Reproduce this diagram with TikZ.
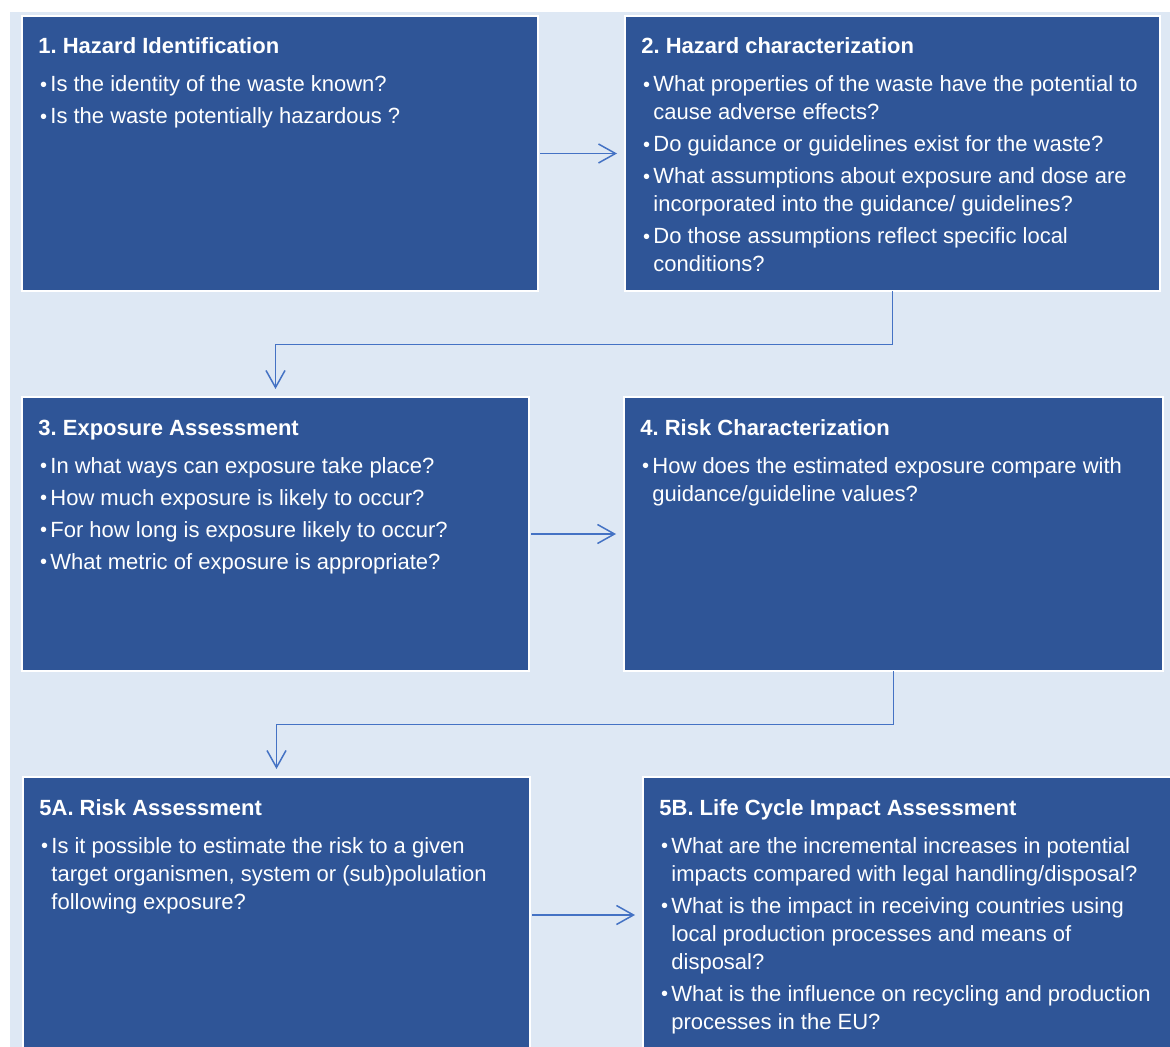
\documentclass[tikz,border=0pt]{standalone}
\usepackage{fontspec}
\setmainfont{Liberation Sans}
\usetikzlibrary{arrows.meta}

\definecolor{boxblue}{HTML}{2F5597}
\definecolor{paleblue}{HTML}{DEE8F4}
\definecolor{flowblue}{HTML}{4472C4}

\newcommand{\qtitle}[1]{{\bfseries #1\par}\vspace{3pt}}
\newcommand{\qitem}[1]{\hangindent=6pt\hangafter=1\relax\hspace*{0.8pt}\makebox[5.2pt][l]{\raisebox{0.3pt}{\fontsize{10}{10}\selectfont\textbullet}}#1\par}
\newcommand{\qtext}[2]{\parbox[t]{#1}{\fontsize{11}{14}\selectfont\raggedright\frenchspacing\setlength{\parskip}{2pt}#2}}

\begin{document}
\begin{tikzpicture}[x=0.5pt, y=-0.5pt,
    qbox/.style={draw=white, line width=1.2pt, fill=boxblue, anchor=north west,
                 outer sep=0pt, inner sep=0pt},
    qtxt/.style={text=white, anchor=base west, inner sep=0pt},
    flow/.style={draw=flowblue, line width=0.75pt,
                 -{Straight Barb[length=8.5pt, width=9.5pt]}, shorten >=4pt}]
\clip (0,0) rectangle (1170,1047);
\fill[paleblue] (10,12) rectangle (1170,1047);

\node[qbox, minimum width=258pt,   minimum height=137.5pt] (hazid)    at (22,16)  {};
\node[qbox, minimum width=267.5pt, minimum height=137.5pt] (hazchar)  at (625,16) {};
\node[qbox, minimum width=253.5pt, minimum height=137pt]   (expo)     at (22,397) {};
\node[qbox, minimum width=269.5pt, minimum height=137pt]   (riskchar) at (624,397) {};
\node[qbox, minimum width=253.5pt, minimum height=138pt]   (riskass)  at (23,777) {};
\node[qbox, minimum width=266pt,   minimum height=138pt]   (lcia)     at (643,777) {};

\node[qtxt] (hazidtxt) at ([shift={(8pt,-19pt)}]hazid.north west) {\qtext{250pt}{%
  \qtitle{1. Hazard Identification}
  \qitem{Is the identity of the waste known?}
  \qitem{Is the waste potentially hazardous ?}}};
\node[qtxt] (hazchartxt) at ([shift={(8pt,-19pt)}]hazchar.north west) {\qtext{258pt}{%
  \qtitle{2. Hazard characterization}
  \qitem{What properties of the waste have the potential to\newline cause adverse effects?}
  \qitem{Do guidance or guidelines exist for the waste?}
  \qitem{What assumptions about exposure and dose are\newline incorporated into the guidance/ guidelines?}
  \qitem{Do those assumptions reflect specific local\newline conditions?}}};
\node[qtxt] (expotxt) at ([shift={(8pt,-19pt)}]expo.north west) {\qtext{245pt}{%
  \qtitle{3. Exposure Assessment}
  \qitem{In what ways can exposure take place?}
  \qitem{How much exposure is likely to occur?}
  \qitem{For how long is exposure likely to occur?}
  \qitem{What metric of exposure is appropriate?}}};
\node[qtxt] (riskchartxt) at ([shift={(8pt,-19pt)}]riskchar.north west) {\qtext{260pt}{%
  \qtitle{4. Risk Characterization}
  \qitem{How does the estimated exposure compare with\newline guidance/guideline values?}}};
\node[qtxt] (riskasstxt) at ([shift={(8pt,-19pt)}]riskass.north west) {\qtext{245pt}{%
  \qtitle{5A. Risk Assessment}
  \qitem{Is it possible to estimate the risk to a given\newline target organismen, system or (sub)polulation\newline following exposure?}}};
\node[qtxt] (lciatxt) at ([shift={(8pt,-19pt)}]lcia.north west) {\qtext{258pt}{%
  \qtitle{5B. Life Cycle Impact Assessment}
  \qitem{What are the incremental increases in potential\newline impacts compared with legal handling/disposal?}
  \qitem{What is the impact in receiving countries using\newline local production processes and means of\newline disposal?}
  \qitem{What is the influence on recycling and production\newline processes in the EU?}}};

\foreach \a/\b in {hazid/hazchar, expo/riskchar, riskass/lcia}
  \draw[flow, shorten <=1pt] (\a.east) -- (\b.west);
\foreach \a/\b in {hazchar/expo, riskchar/riskass}
  \draw[flow] (\a.south) -- ++(0,53.5) -| (\b.north);
\end{tikzpicture}
\end{document}
